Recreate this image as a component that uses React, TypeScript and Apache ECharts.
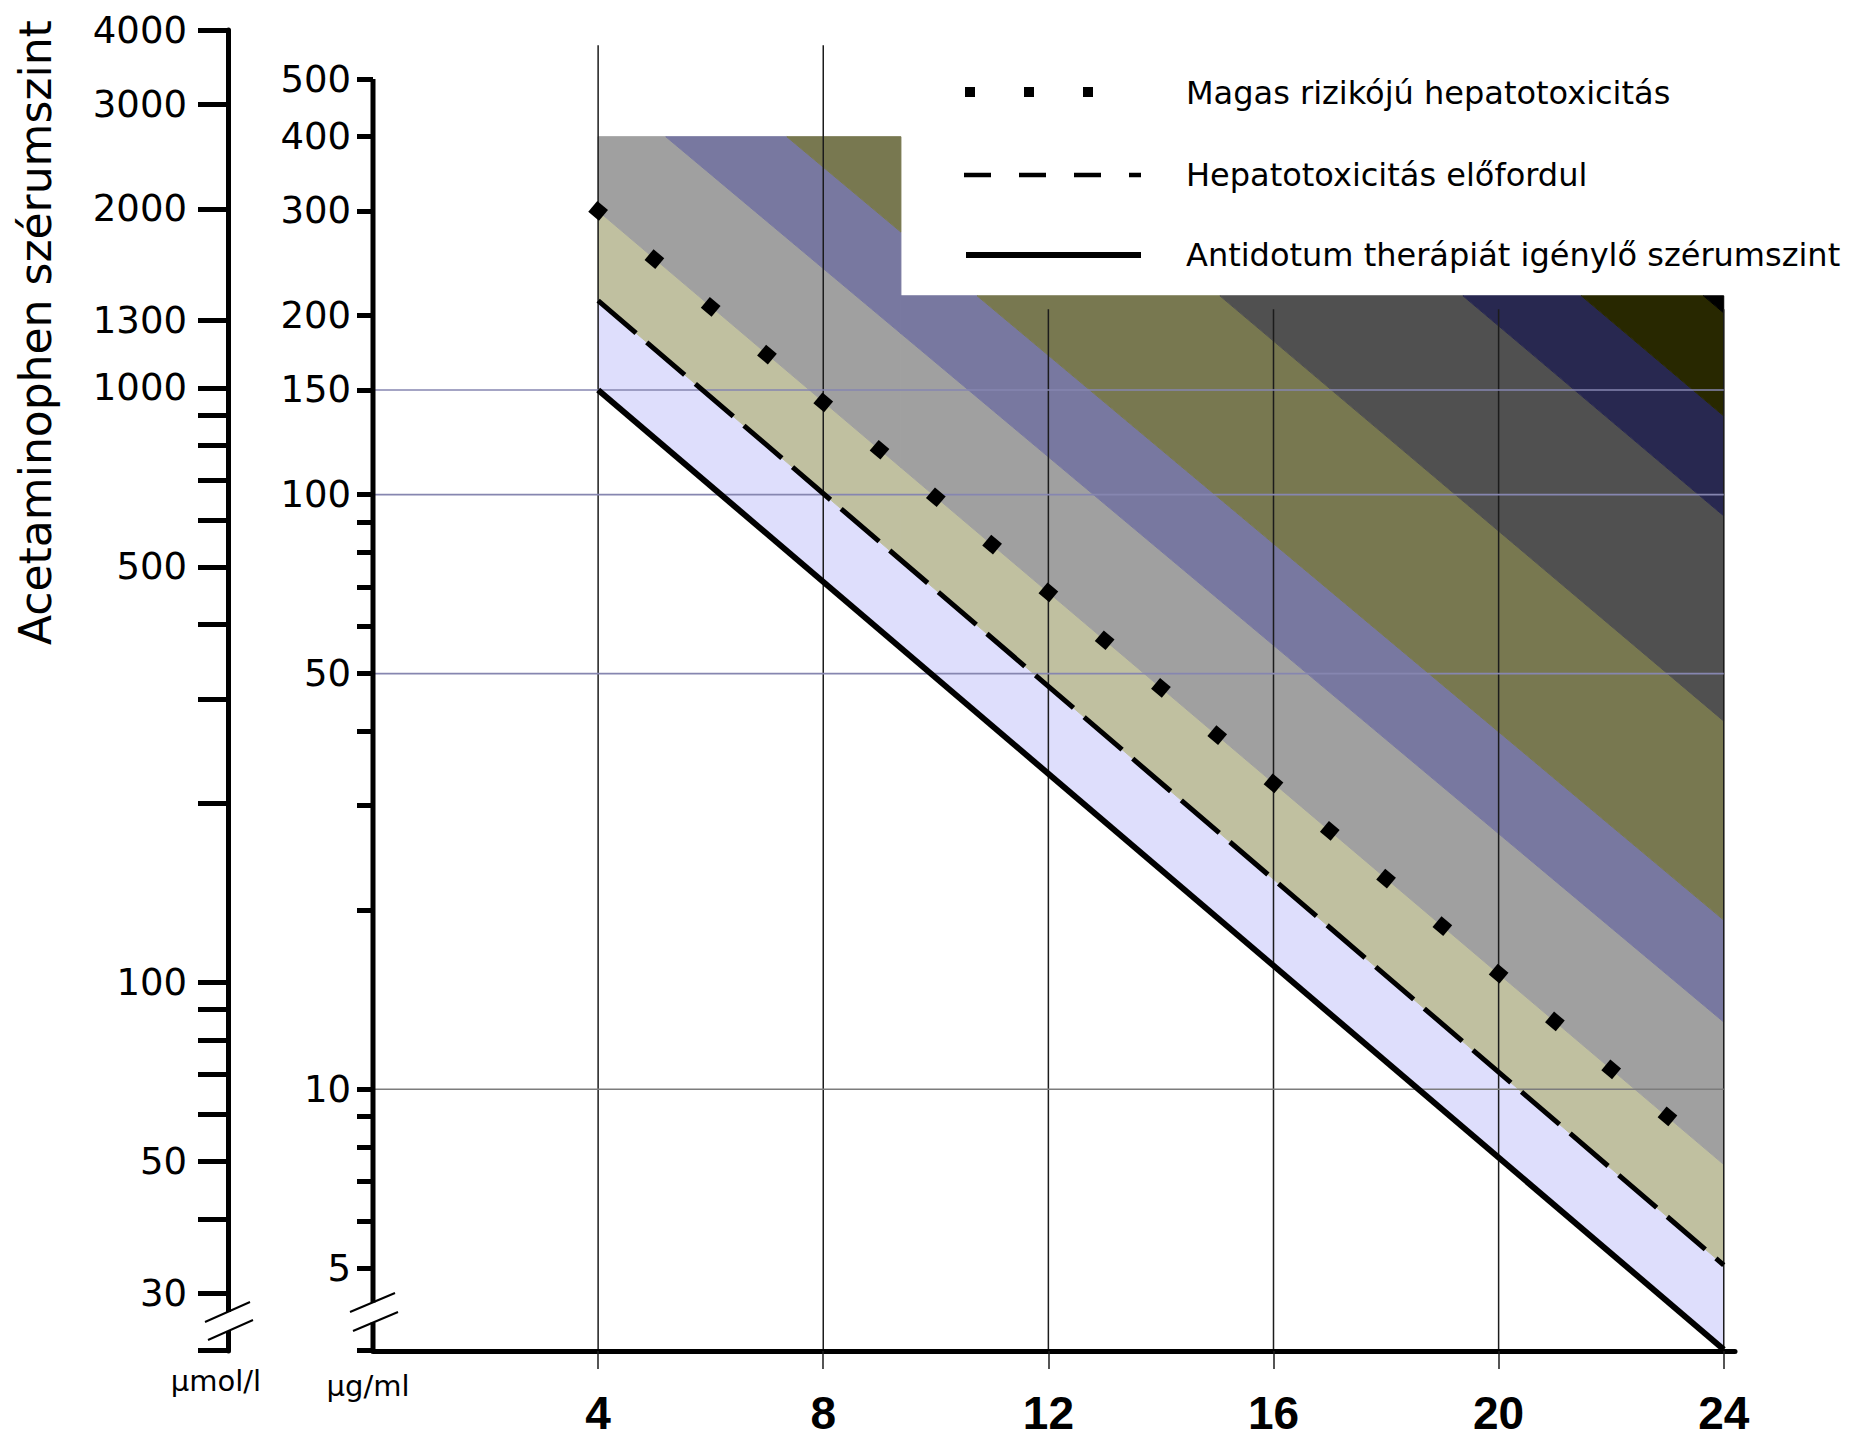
import React, { useEffect, useRef } from "react";
import * as echarts from "echarts";

// ---------------- data ----------------
const hourTicks = [4, 8, 12, 16, 20, 24];
const umolLabeledTicks = [4000, 3000, 2000, 1300, 1000, 500, 100, 50, 30];
const umolMinorTicks = [900, 800, 700, 600, 400, 300, 200, 90, 80, 70, 60, 40];
const ugLabeledTicks = [500, 400, 300, 200, 150, 100, 50, 10, 5];
const ugMinorTicks = [90, 80, 70, 60, 40, 30, 20, 9, 8, 7, 6];

// horizontal guide levels (µg/ml)
const guideLevels = [150, 100, 50, 10];
const guideColors = ["#8686b0", "#8686b0", "#8686b0", "#7c7c7c"];

// threshold lines: [hours, µg/ml]
const treatmentLine = [
  [4, 150],
  [24, 3.65],
];
const hepatotoxLine = [
  [4, 212],
  [24, 5.06],
];
const highRiskHours = [4, 5, 6, 7, 8, 9, 10, 11, 12, 13, 14, 15, 16, 17, 18, 19, 20, 21, 22, 23];
const highRiskValues = [300, 249, 207, 172, 143, 119, 99, 82.4, 68.5, 56.9, 47.3, 39.4, 32.7, 27.2, 22.6, 18.8, 15.65, 13.0, 10.8, 9.0];

// diagonal colour bands: edge values at 4 h and at 24 h (µg/ml), lowest edge first
const bandEdgeAt4h = [150, 212, 300, 498, 737, 1649, 3647, 5373, 8007, 1e6];
const bandEdgeAt24h = [3.65, 5.06, 7.47, 12.97, 19.25, 41.6, 92.1, 135.6, 202.1, 1e5];
const bandColors = ["#dedefc", "#c0c0a0", "#a0a0a0", "#7878a0", "#787850", "#505050", "#282850", "#282800", "#000000"];
// upper limit of the shaded region (hours from, hours to, µg/ml)
const regionCaps = [
  { from: 4, to: 9.38, cap: 400 },
  { from: 9.38, to: 24, cap: 216 },
];
// top end (µg/ml) of each vertical hour line
const hourLineTops = [570, 570, 205, 205, 205, 205];

const legendLabels = [
  "Magas rizikójú hepatotoxicitás",
  "Hepatotoxicitás előfordul",
  "Antidotum therápiát igénylő szérumszint",
];
const yTitle = "Acetaminophen szérumszint";

// ---------------- scales / layout ----------------
const UMOL_PER_UG = 6.615;
const UMOL_MIN = 24;
const UMOL_MAX = 4000;
const UG_MIN = UMOL_MIN / UMOL_PER_UG;
const UG_MAX = UMOL_MAX / UMOL_PER_UG;

const W = 1854;
const H = 1440;
const GRID = { left: 373, top: 30, right: 119, bottom: 89 };
const X_MAX = 24.2;
const UMOL_AXIS_OFFSET = 145;
const PX_PER_HOUR = (W - GRID.left - GRID.right) / X_MAX;
const GUIDE_START_H = -UMOL_AXIS_OFFSET / PX_PER_HOUR;

const FONT = "DejaVu Sans";

function clipBelow(pts: number[][], capY: number): number[][] {
  const out: number[][] = [];
  for (let i = 0; i < pts.length; i++) {
    const a = pts[i];
    const b = pts[(i + 1) % pts.length];
    const ina = a[1] >= capY;
    const inb = b[1] >= capY;
    if (ina) out.push(a);
    if (ina !== inb) {
      const t = (capY - a[1]) / (b[1] - a[1]);
      out.push([a[0] + t * (b[0] - a[0]), capY]);
    }
  }
  return out;
}

function buildOption(): any {
  const bandData = bandColors.map((_, i) => [i, bandEdgeAt4h[i], bandEdgeAt24h[i], bandEdgeAt4h[i + 1], bandEdgeAt24h[i + 1]]);

  const bandSeries = {
    type: "custom",
    xAxisIndex: 0,
    yAxisIndex: 0,
    z: 1,
    silent: true,
    clip: false,
    data: bandData,
    renderItem: (params: any, api: any) => {
      const color = bandColors[params.dataIndex];
      const lo4 = api.coord([4, api.value(1)]);
      const lo24 = api.coord([24, api.value(2)]);
      const hi4 = api.coord([4, api.value(3)]);
      const hi24 = api.coord([24, api.value(4)]);
      const yAt = (a: number[], b: number[], X: number) => a[1] + ((b[1] - a[1]) * (X - a[0])) / (b[0] - a[0]);
      const children: any[] = [];
      regionCaps.forEach((seg) => {
        const p0 = api.coord([seg.from, seg.cap]);
        const p1 = api.coord([seg.to, seg.cap]);
        const X0 = p0[0];
        const X1 = p1[0];
        const capY = p0[1];
        const poly = [
          [X0, yAt(lo4, lo24, X0)],
          [X1, yAt(lo4, lo24, X1)],
          [X1, yAt(hi4, hi24, X1)],
          [X0, yAt(hi4, hi24, X0)],
        ];
        const clipped = clipBelow(poly, capY);
        if (clipped.length >= 3) {
          children.push({
            type: "polygon",
            shape: { points: clipped },
            style: { fill: color, stroke: color, lineWidth: 1 },
          });
        }
      });
      return { type: "group", children };
    },
  };

  const baseLine = { type: "line", symbol: "none", showSymbol: false, silent: true, xAxisIndex: 0, yAxisIndex: 0 };

  const hourLines = hourTicks.map((h, i) => ({
    ...baseLine,
    z: 3,
    data: [
      [h, UG_MIN],
      [h, hourLineTops[i]],
    ],
    lineStyle: { color: "#1c1c1c", width: 1.5 },
  }));

  const guideLines = guideLevels.map((v, i) => ({
    ...baseLine,
    z: 3,
    clip: false,
    data: [
      [GUIDE_START_H, v],
      [24, v],
    ],
    lineStyle: { color: guideColors[i], width: 1.6 },
  }));

  const ugAxisLine = {
    ...baseLine,
    z: 8,
    clip: false,
    data: [
      [0, UG_MIN],
      [0, ugLabeledTicks[0]],
    ],
    lineStyle: { color: "#000", width: 5, cap: "butt" },
  };

  const treatment = {
    ...baseLine,
    z: 5,
    clip: false,
    data: treatmentLine,
    lineStyle: { color: "#000", width: 6 },
  };
  const hepatotox = {
    ...baseLine,
    z: 5,
    clip: false,
    data: hepatotoxLine,
    lineStyle: { color: "#000", width: 5, type: [50, 14] },
  };
  const highRisk = {
    type: "scatter",
    silent: true,
    z: 6,
    symbol: "rect",
    symbolSize: 14,
    symbolRotate: -40,
    itemStyle: { color: "#000", opacity: 1 },
    data: highRiskHours.map((h, i) => [h, highRiskValues[i]]),
  };

  const graphics: any[] = [];
  // y title
  graphics.push({
    type: "text",
    x: 35,
    y: 645,
    rotation: Math.PI / 2,
    z: 100,
    style: {
      text: yTitle,
      fontSize: 44,
      fontFamily: FONT,
      fill: "#000",
      textAlign: "left",
      align: "left",
      textVerticalAlign: "middle",
      verticalAlign: "middle",
    },
  });
  // unit labels
  const unitLabels = [
    { text: "µmol/l", x: 216, y: 1381 },
    { text: "µg/ml", x: 368, y: 1386 },
  ];
  unitLabels.forEach((u) =>
    graphics.push({
      type: "text",
      x: u.x,
      y: u.y,
      z: 100,
      style: { text: u.text, fontSize: 29, fontFamily: FONT, fill: "#000", textAlign: "center", align: "center", textVerticalAlign: "middle", verticalAlign: "middle" },
    })
  );
  // legend
  const legendY = [93, 175, 255];
  legendLabels.forEach((t, i) =>
    graphics.push({
      type: "text",
      x: 1186,
      y: legendY[i],
      z: 100,
      style: { text: t, fontSize: 32, fontFamily: FONT, fill: "#000", textAlign: "left", align: "left", textVerticalAlign: "middle", verticalAlign: "middle" },
    })
  );
  [970, 1029, 1088].forEach((cx) =>
    graphics.push({ type: "rect", z: 100, shape: { x: cx - 5, y: legendY[0] - 6, width: 10, height: 10 }, style: { fill: "#000" } })
  );
  graphics.push({
    type: "line",
    z: 100,
    shape: { x1: 964, y1: legendY[1], x2: 1141, y2: legendY[1] },
    style: { stroke: "#000", lineWidth: 4.5, lineDash: [27, 28] },
  });
  graphics.push({
    type: "line",
    z: 100,
    shape: { x1: 966, y1: legendY[2], x2: 1141, y2: legendY[2] },
    style: { stroke: "#000", lineWidth: 6 },
  });
  // axis breaks
  const breaks = [
    { ax: 228, l1: [205, 1322, 250, 1302], l2: [208, 1340, 253, 1320], gap: [1312, 1331] },
    { ax: 373, l1: [350, 1312, 395, 1293], l2: [353, 1331, 398, 1312], gap: [1302.5, 1322.5] },
  ];
  breaks.forEach((b) => {
    graphics.push({ type: "rect", z: 100, shape: { x: b.ax - 6, y: b.gap[0], width: 12, height: b.gap[1] - b.gap[0] }, style: { fill: "#fff" } });
    [b.l1, b.l2].forEach((l) =>
      graphics.push({ type: "line", z: 101, shape: { x1: l[0], y1: l[1], x2: l[2], y2: l[3] }, style: { stroke: "#000", lineWidth: 2 } })
    );
  });

  return {
    animation: false,
    backgroundColor: "#fff",
    textStyle: { fontFamily: FONT },
    grid: { ...GRID, containLabel: false, outerBoundsMode: "none" },
    xAxis: {
      type: "value",
      min: 0,
      max: X_MAX,
      z: 10,
      axisLine: { show: true, lineStyle: { color: "#000", width: 5 } },
      axisTick: { show: true, customValues: hourTicks, length: 18, lineStyle: { color: "#1c1c1c", width: 1.5 } },
      axisLabel: {
        show: true,
        customValues: hourTicks,
        formatter: (v: number) => String(Math.round(v)),
        fontSize: 46,
        fontWeight: "bold",
        fontFamily: "Liberation Sans",
        color: "#000",
        margin: 39,
        lineHeight: 46,
      },
      splitLine: { show: false },
    },
    yAxis: [
      {
        type: "log",
        logBase: 10,
        min: UG_MIN,
        max: UG_MAX,
        position: "left",
        offset: 0,
        z: 10,
        axisLine: { show: false },
        axisTick: {
          show: true,
          customValues: [...ugLabeledTicks, ...ugMinorTicks, UG_MIN * 1.001],
          length: 16,
          lineStyle: { color: "#000", width: 5 },
        },
        axisLabel: {
          show: true,
          customValues: ugLabeledTicks,
          formatter: (v: number) => String(Math.round(v)),
          fontSize: 37,
          fontFamily: FONT,
          color: "#000",
          margin: 20,
          backgroundColor: "#fff",
          padding: [0, 2, 0, 2],
        },
        splitLine: { show: false },
      },
      {
        type: "log",
        logBase: 10,
        min: UMOL_MIN,
        max: UMOL_MAX,
        position: "left",
        offset: UMOL_AXIS_OFFSET,
        z: 10,
        axisLine: { show: true, lineStyle: { color: "#000", width: 5 } },
        axisTick: {
          show: true,
          customValues: [...umolLabeledTicks, ...umolMinorTicks, UMOL_MIN * 1.001],
          length: 30,
          lineStyle: { color: "#000", width: 5 },
        },
        axisLabel: {
          show: true,
          customValues: umolLabeledTicks,
          formatter: (v: number) => String(Math.round(v)),
          fontSize: 37,
          fontFamily: FONT,
          color: "#000",
          margin: 41,
        },
        splitLine: { show: false },
      },
    ],
    series: [bandSeries, ...hourLines, ...guideLines, ugAxisLine, treatment, hepatotox, highRisk],
    graphic: { elements: graphics },
  };
}

export default function App() {
  const ref = useRef<HTMLDivElement>(null);
  useEffect(() => {
    if (!ref.current) return;
    const chart = echarts.init(ref.current, null, { renderer: "svg", width: W, height: H });
    chart.setOption(buildOption());
    return () => chart.dispose();
  }, []);
  return <div ref={ref} style={{ position: "absolute", left: 0, top: 0, width: W, height: H, background: "#fff" }} />;
}
